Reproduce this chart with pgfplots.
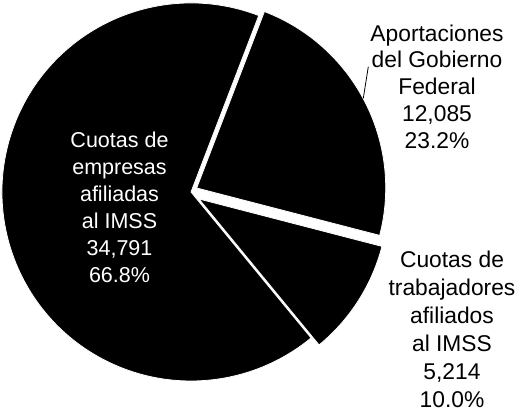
\documentclass[border=0pt]{standalone}
\usepackage{pgfplots}
\usepackage{pgfplotstable}
\pgfplotsset{compat=1.18}
\usepackage{fontspec}
\setmainfont{Liberation Sans}

\pgfplotstableread{
label value dx dy
empresas 34791 0 0
gobierno 12085 5.7 4
trabajadores 5214 8 -7
}\piedata

\begin{document}
\begin{tikzpicture}
\pgfplotstablegetelem{0}{value}\of\piedata \let\va\pgfplotsretval
\pgfplotstablegetelem{1}{value}\of\piedata \let\vb\pgfplotsretval
\pgfplotstablegetelem{2}{value}\of\piedata \let\vc\pgfplotsretval
\pgfplotstablegetelem{1}{dx}\of\piedata \let\bdx\pgfplotsretval
\pgfplotstablegetelem{1}{dy}\of\piedata \let\bdy\pgfplotsretval
\pgfplotstablegetelem{2}{dx}\of\piedata \let\cdx\pgfplotsretval
\pgfplotstablegetelem{2}{dy}\of\piedata \let\cdy\pgfplotsretval
\edef\angA{\fpeval{round(360*\va/(\va+\vb+\vc),3)}}
\edef\angB{\fpeval{round(360*\vb/(\va+\vb+\vc),3)}}
\edef\angC{\fpeval{round(360*\vc/(\va+\vb+\vc),3)}}
\def\azero{69}
\pgfmathsetmacro\aEndA{\azero+\angA}
\pgfmathsetmacro\aEndB{\azero-\angB}
\pgfmathsetmacro\aEndC{\azero-\angB-\angC}
\pgfmathsetmacro\bx{191+\bdx}
\pgfmathsetmacro\by{219+\bdy}
\pgfmathsetmacro\cx{191+\cdx}
\pgfmathsetmacro\cy{219+\cdy}
\begin{axis}[
  scale only axis, width=516pt, height=411pt,
  xmin=0, xmax=516, ymin=0, ymax=411,
  hide axis, clip=false,
]
% empresas
\fill[black, draw=white, line width=0.8pt] (axis cs:191,219) -- ++(\azero:189pt)
  arc[start angle=\azero, end angle=\aEndA, radius=189pt] -- cycle;
% gobierno
\fill[black, draw=white, line width=0.8pt] (axis cs:\bx,\by) -- ++(\azero:189pt)
  arc[start angle=\azero, end angle=\aEndB, radius=189pt] -- cycle;
% trabajadores
\fill[black, draw=white, line width=0.8pt] (axis cs:\cx,\cy) -- ++(\aEndB:189pt)
  arc[start angle=\aEndB, end angle=\aEndC, radius=189pt] -- cycle;
% leader
\addplot[black, line width=0.8pt] coordinates {(368.3,344.3) (363.3,312.7)};
\node[white, align=center, anchor=north, inner sep=0pt,
  font=\fontsize{21.5}{27}\selectfont] at (axis cs:119.5,279.3)
  {Cuotas de\\empresas\\afiliadas\\al IMSS\\34,791\\66.8\%};
\node[black, align=center, anchor=north, inner sep=0pt,
  font=\fontsize{22.8}{26.8}\selectfont] at (axis cs:437,386.7)
  {Aportaciones\\del Gobierno\\Federal\\12,085\\23.2\%};
\node[black, align=center, anchor=north, inner sep=0pt,
  font=\fontsize{22.8}{28}\selectfont] at (axis cs:452,160.3)
  {Cuotas de\\trabajadores\\afiliados\\al IMSS\\5,214\\10.0\%};
\end{axis}
\pgfresetboundingbox
\path[use as bounding box] (current axis.south west) rectangle (current axis.north east);
\end{tikzpicture}
\end{document}
